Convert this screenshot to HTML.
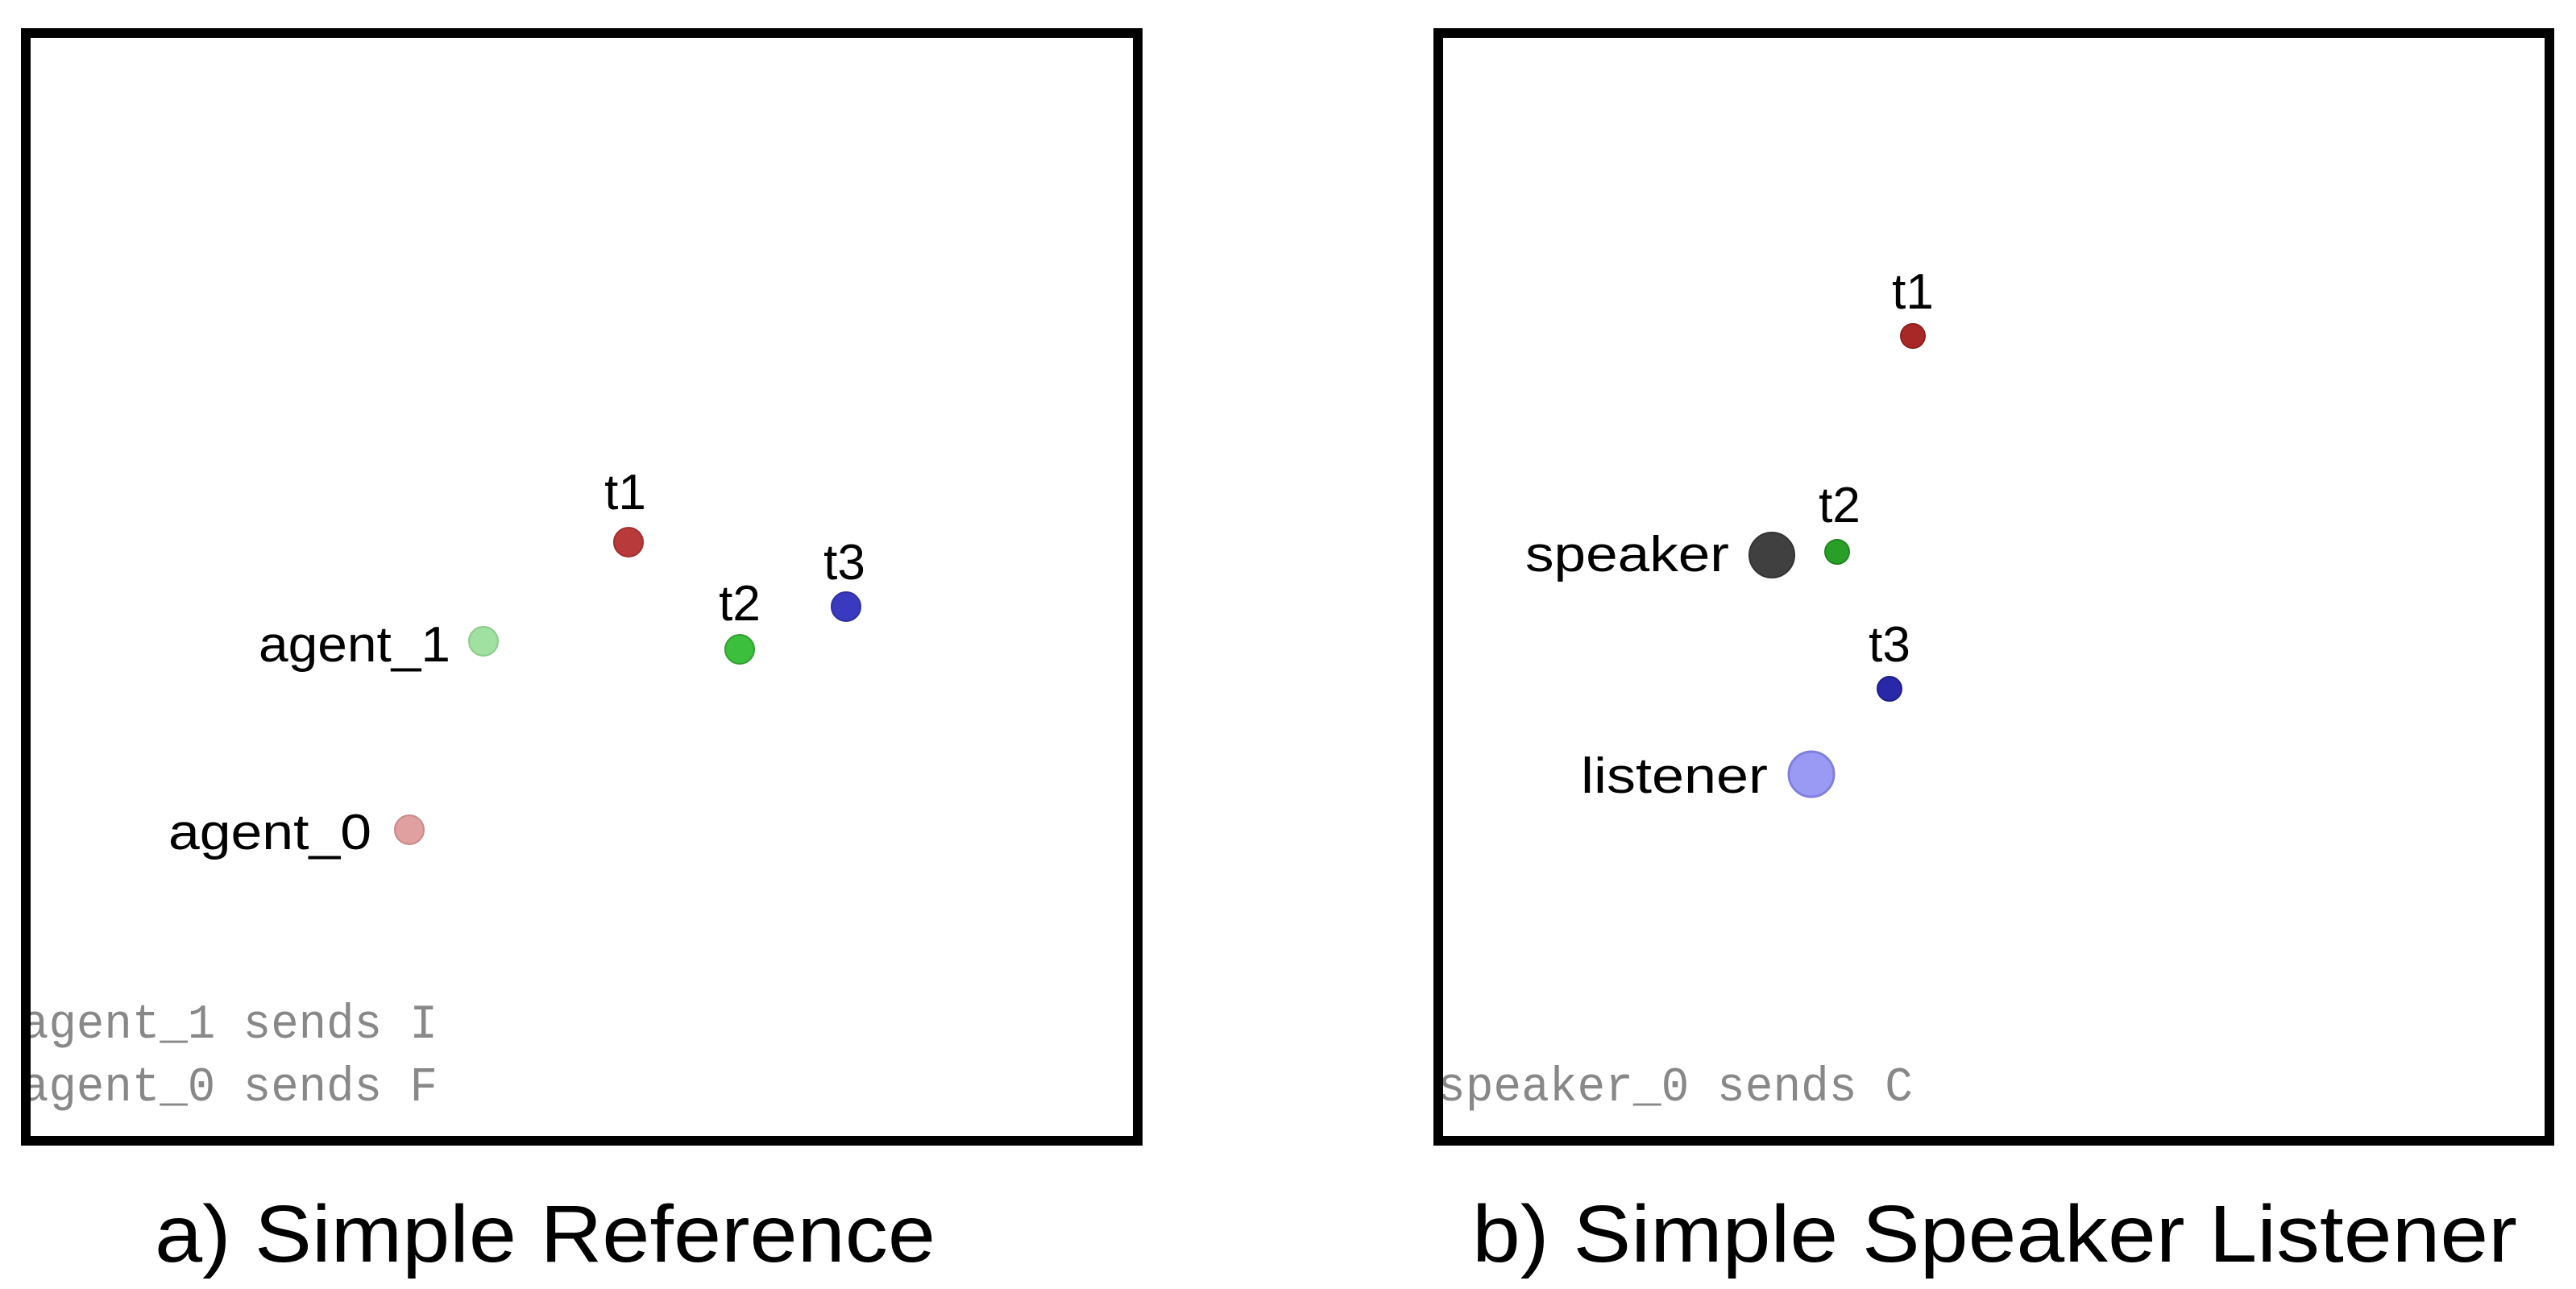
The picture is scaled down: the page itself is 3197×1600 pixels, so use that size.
<!DOCTYPE html>
<html><head><meta charset="utf-8"><style>
html,body{margin:0;padding:0;background:#fff;}
svg{display:block;}
</style></head><body>
<svg width="3197" height="1600" viewBox="0 0 3197 1600" xmlns="http://www.w3.org/2000/svg">
<defs>
<clipPath id="ca"><rect x="38" y="46" width="1368" height="1362"/></clipPath>
<clipPath id="cb"><rect x="1791" y="46" width="1367" height="1362"/></clipPath>
</defs>
<rect width="3197" height="1600" fill="#fff"/>
<!-- panel a -->
<rect x="32" y="41" width="1380" height="1375" fill="#fff" stroke="#000" stroke-width="12"/>
<g font-family="Liberation Sans, sans-serif" font-size="62" fill="#000">
<text x="776" y="632" text-anchor="middle">t1</text>
<text x="918" y="770" text-anchor="middle">t2</text>
<text x="1048" y="719" text-anchor="middle">t3</text>
<text x="559" y="821" text-anchor="end" textLength="238" lengthAdjust="spacingAndGlyphs">agent_1</text>
<text x="461" y="1054" text-anchor="end" textLength="252" lengthAdjust="spacingAndGlyphs">agent_0</text>
</g>
<circle cx="780" cy="673" r="18" fill="#b83a3a" stroke="#a03030" stroke-width="2"/>
<circle cx="918" cy="806" r="18" fill="#3cbf3c" stroke="#30a030" stroke-width="2"/>
<circle cx="1050" cy="753" r="18" fill="#3a3ac0" stroke="#3030a0" stroke-width="2"/>
<circle cx="600" cy="796" r="18" fill="#a0e0a0" stroke="#88cc88" stroke-width="2"/>
<circle cx="508" cy="1030" r="18" fill="#e0a0a0" stroke="#cc8888" stroke-width="2"/>
<g clip-path="url(#ca)" font-family="Liberation Mono, monospace" font-size="60" fill="#888">
<text x="26" y="1288" textLength="517" lengthAdjust="spacingAndGlyphs">agent_1 sends I</text>
<text x="26" y="1366" textLength="517" lengthAdjust="spacingAndGlyphs">agent_0 sends F</text>
</g>
<text x="192" y="1566" font-family="Liberation Sans, sans-serif" font-size="100" fill="#000" textLength="969" lengthAdjust="spacingAndGlyphs">a) Simple Reference</text>
<!-- panel b -->
<rect x="1785" y="41" width="1379" height="1375" fill="#fff" stroke="#000" stroke-width="12"/>
<g font-family="Liberation Sans, sans-serif" font-size="62" fill="#000">
<text x="2374" y="383" text-anchor="middle">t1</text>
<text x="2283" y="648" text-anchor="middle">t2</text>
<text x="2345" y="821" text-anchor="middle">t3</text>
<text x="2146" y="709" text-anchor="end" textLength="253" lengthAdjust="spacingAndGlyphs">speaker</text>
<text x="2194" y="984" text-anchor="end" textLength="232" lengthAdjust="spacingAndGlyphs">listener</text>
</g>
<circle cx="2374" cy="417" r="15" fill="#a82828" stroke="#902020" stroke-width="2"/>
<circle cx="2280" cy="685" r="15" fill="#28a028" stroke="#208820" stroke-width="2"/>
<circle cx="2345" cy="855" r="15" fill="#2828a8" stroke="#202090" stroke-width="2"/>
<circle cx="2199" cy="689" r="28" fill="#404040" stroke="#333" stroke-width="2"/>
<circle cx="2248" cy="961" r="28" fill="#9a9af5" stroke="#8080dd" stroke-width="3"/>
<g clip-path="url(#cb)" font-family="Liberation Mono, monospace" font-size="60" fill="#888">
<text x="1784" y="1366" textLength="590" lengthAdjust="spacingAndGlyphs">speaker_0 sends C</text>
</g>
<text x="1827" y="1566" font-family="Liberation Sans, sans-serif" font-size="100" fill="#000" textLength="1297" lengthAdjust="spacingAndGlyphs">b) Simple Speaker Listener</text>
</svg>
</body></html>
